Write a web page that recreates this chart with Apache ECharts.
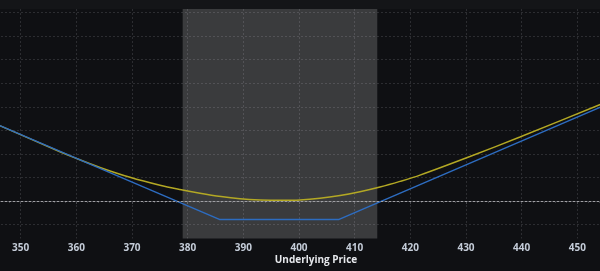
<!DOCTYPE html>
<html>
<head>
<meta charset="utf-8">
<script src="https://cdn.jsdelivr.net/npm/echarts@6/dist/echarts.min.js"></script>
<style>
html,body{margin:0;padding:0;background:#0f1013;overflow:hidden;width:600px;height:271px;}
#c{position:absolute;left:-35px;top:0;width:668px;height:271px;}
</style>
</head>
<body>
<div id="c"></div>
<script>
// Underlying price ticks
const xTickMin = 340;
const xTickMax = 460;
const xTickStep = 10;
// Payoff at expiration (blue)
const expiryPrice = [345, 385.7, 407.2, 455];
const expiryPL = [3330, -780, -780, 4070];
// Current theoretical value (yellow)
const currentPrice = [345, 357.06, 359.76, 364.25, 369.64, 375.03, 378.62, 382.21, 386, 389.4, 393, 396.5, 400.18, 403.77, 407.37, 410.95, 414.55, 418.14, 421.73, 430.71, 439.69, 455];
const currentPL = [3330, 2090, 1830, 1425, 1006, 667, 488, 330, 190, 100, 48, 28, 42, 112, 232, 395, 595, 833, 1099, 1889, 2715, 4185];
// Breakeven range (shaded)
const breakeven = [379.1, 414.06];
const yMin = -1592;
const yMax = 8153;
const xName = 'Underlying Price';

const chart = echarts.init(document.getElementById('c'), null, {renderer: 'canvas'});
const expirySeries = expiryPrice.map((p, i) => [p, expiryPL[i]]);
const currentSeries = currentPrice.map((p, i) => [p, currentPL[i]]);

chart.setOption({
  backgroundColor: '#0f1013',
  animation: false,
  grid: {left: 0, right: 0, top: 9, bottom: 32.5, show: false, containLabel: false, outerBoundsMode: 'none'},
  graphic: [
    {type: 'rect', shape: {x: 0, y: 0, width: 668, height: 9}, style: {fill: '#141518'}, z: 0},
    {type: 'text', x: 351, y: 260, style: {text: xName, fill: '#e6e8ec', font: 'bold 10px "Open Sans", sans-serif', textAlign: 'center', textVerticalAlign: 'middle'}}
  ],
  xAxis: {
    type: 'value', min: xTickMin, max: xTickMax, interval: xTickStep,
    axisLine: {show: true, lineStyle: {color: '#45464b', width: 1}},
    axisTick: {show: true, length: 3, lineStyle: {color: '#45464b'}},
    minorTick: {show: true, splitNumber: 5, length: 2, lineStyle: {color: '#3a3b40'}},
    axisLabel: {color: '#c4ccd8', fontSize: 10, fontWeight: 'bold', fontFamily: 'Open Sans', margin: 5},
    splitLine: {show: true, lineStyle: {color: '#2c2d31', type: [2, 2], width: 1}}
  },
  yAxis: {
    type: 'value', min: yMin, max: yMax, minInterval: 1000, maxInterval: 1000,
    axisLine: {show: false}, axisTick: {show: false}, axisLabel: {show: false},
    splitLine: {show: true, showMinLine: false, showMaxLine: false, lineStyle: {color: '#2c2d31', type: [2, 2], width: 1}}
  },
  series: [
    {
      type: 'line', data: [], z: 1, silent: true,
      markArea: {silent: true, itemStyle: {color: 'rgba(255,255,255,0.18)'}, data: [[{xAxis: breakeven[0]}, {xAxis: breakeven[1]}]]},
      markLine: {silent: true, symbol: 'none', label: {show: false}, lineStyle: {color: '#a0a0a4', type: [2, 2], width: 1}, data: [{yAxis: 0}]}
    },
    {
      type: 'line', data: currentSeries, z: 3, smooth: 0.3, showSymbol: false, silent: true,
      lineStyle: {color: '#b3a824', width: 1.5}
    },
    {
      type: 'line', data: expirySeries, z: 4, showSymbol: false, silent: true,
      lineStyle: {color: '#2d6cc0', width: 1.5}
    }
  ]
});
</script>
</body>
</html>
